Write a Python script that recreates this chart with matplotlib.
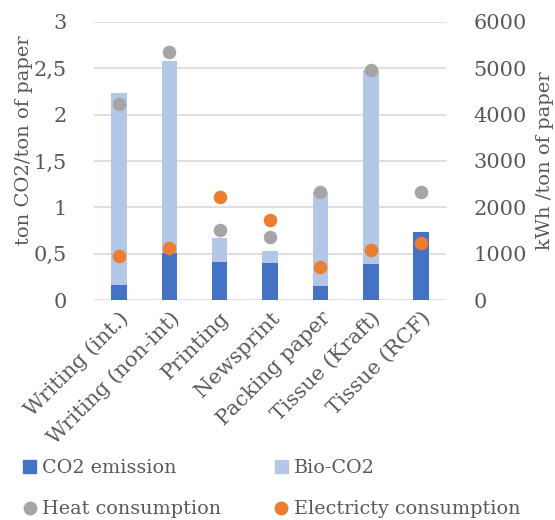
import matplotlib
matplotlib.use("Agg")
import matplotlib.pyplot as plt
from matplotlib.lines import Line2D
from matplotlib.patches import Patch
from matplotlib.ticker import FuncFormatter
import numpy as np

categories = [
    "Writing (int.)",
    "Writing (non-int)",
    "Printing",
    "Newsprint",
    "Packing paper",
    "Tissue (Kraft)",
    "Tissue (RCF)",
]
co2_emission = [0.16, 0.51, 0.41, 0.40, 0.15, 0.39, 0.73]
bio_co2 = [2.07, 2.07, 0.26, 0.13, 1.01, 2.09, 0.0]
heat = [4220, 5350, 1510, 1365, 2320, 4960, 2320]
electricity = [955, 1115, 2215, 1725, 720, 1080, 1235]

dark_blue = "#4472C4"
light_blue = "#B4C7E7"
grey_dot = "#A5A5A5"
orange_dot = "#ED7D31"
text_grey = "#595959"

plt.rcParams["font.family"] = ["DejaVu Serif"]
plt.rcParams["font.size"] = 15

fig = plt.figure(figsize=(5.55, 5.2), dpi=100)
ax = fig.add_axes([0.169, 0.423, 0.635, 0.535])
ax2 = ax.twinx()

x = np.arange(len(categories))
width = 0.31
ax.bar(x, co2_emission, width, color=dark_blue, zorder=2)
ax.bar(x, bio_co2, width, bottom=co2_emission, color=light_blue, zorder=2)

ax2.scatter(x, heat, s=95, color=grey_dot, zorder=3, linewidths=0)
ax2.scatter(x, electricity, s=95, color=orange_dot, zorder=3, linewidths=0)

ax.set_xlim(-0.5, len(categories) - 0.5)
ax.set_ylim(0, 3)
ax.set_yticks(np.arange(0, 3.01, 0.5))
ax.yaxis.set_major_formatter(
    FuncFormatter(lambda v, _: f"{v:g}".replace(".", ","))
)
ax2.set_ylim(0, 6000)
ax2.set_yticks(np.arange(0, 6001, 1000))

ax.grid(axis="y", color="#D9D9D9", linewidth=1.2, zorder=0)
ax.set_axisbelow(True)

for a in (ax, ax2):
    for side in ("top", "left", "right", "bottom"):
        a.spines[side].set_visible(False)
    a.tick_params(length=0, colors=text_grey, labelsize=15)

ax.set_xticks(x)
ax.set_xticklabels(
    categories, rotation=45, ha="right", rotation_mode="anchor"
)
ax.tick_params(axis="x", pad=6)
ax.tick_params(axis="y", pad=19.5)
ax2.tick_params(axis="y", pad=19.5)

ax.set_ylabel("ton CO2/ton of paper", color=text_grey, fontsize=14)
ax.yaxis.set_label_coords(-0.172, 0.575)
ax2.set_ylabel("kWh /ton of paper", color=text_grey, fontsize=14)
ax2.yaxis.set_label_coords(1.256, 0.5)

handles = [
    Patch(color=dark_blue, label="CO2 emission"),
    Line2D([], [], marker="o", color=grey_dot, linestyle="none",
           markersize=9, label="Heat consumption"),
    Patch(color=light_blue, label="Bio-CO2"),
    Line2D([], [], marker="o", color=orange_dot, linestyle="none",
           markersize=9, label="Electricty consumption"),
]
fig.legend(
    handles=handles,
    ncol=2,
    loc="lower left",
    bbox_to_anchor=(0.01, -0.03),
    frameon=False,
    handlelength=0.7,
    handleheight=0.7,
    handletextpad=0.3,
    columnspacing=2.8,
    labelspacing=1.2,
    labelcolor=text_grey,
    fontsize=13.8,
)

fig.savefig("out.png", dpi=100)
